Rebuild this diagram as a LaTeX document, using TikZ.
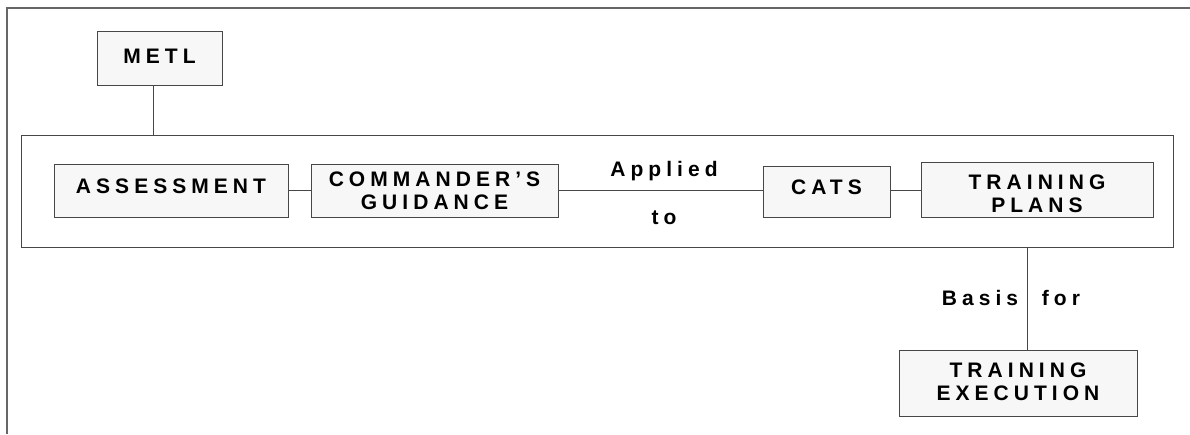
\documentclass[tikz,border=0pt]{standalone}
\usepackage{fontspec}
\setmainfont{Liberation Sans}[UprightFont=* Bold, BoldFont=* Bold, LetterSpace=24]
\newcommand{\mydepth}[1]{\rule[-#1]{0pt}{#1}}
\newcommand{\myheight}[1]{\rule{0pt}{#1}}
\begin{document}
\begin{tikzpicture}[x=1pt,y=-1pt,
  box/.style={draw=black!72, line width=1pt, fill=black!3, rectangle, inner sep=0pt,
     align=center, font=\fontsize{21}{23}\selectfont},
  lab/.style={inner sep=0pt, anchor=base, font=\fontsize{21}{23}\selectfont},
  conn/.style={draw=black!72, line width=1pt}]
\useasboundingbox (0,0) rectangle (1190,434);
\fill[white] (0,0) rectangle (1190,434);
\draw[black!60, line width=1.2pt] (7,434) -- (7,8) -- (1190,8);
\node[box, fill=white, minimum width=1152pt, minimum height=112pt] (outer) at (597,191) {};
\node[box, minimum width=125pt, minimum height=54pt] (metl) at (159.5,58) {METL\mydepth{4pt}};
\node[box, minimum width=234pt, minimum height=53pt] (assess) at (171,190.5) {ASSESSMENT\mydepth{9pt}};
\node[box, minimum width=247pt, minimum height=53pt] (cmd) at (434.5,190.5) {COMMANDER’S\\GUIDANCE};
\node[box, minimum width=127pt, minimum height=51pt] (cats) at (826.5,191.5) {CATS\mydepth{8pt}};
\node[box, minimum width=232pt, minimum height=55pt] (tp) at (1037,190) {\myheight{22pt}TRAINING\\PLANS};
\node[box, minimum width=238pt, minimum height=66pt] (te) at (1018,383) {TRAINING\\EXECUTION\mydepth{3pt}};
\node[lab] (applied) at (664,176.7) {Applied};
\node[lab] (to) at (664,224) {to};
\node[lab] (basis) at (980,305) {Basis};
\node[lab] (for) at (1061,305) {for};
\coordinate (mx) at (153,0);
\coordinate (bx) at (1027,0);
\draw[conn] (metl.south -| mx) -- (outer.north -| mx);
\draw[conn] (assess.east) -- (cmd.west);
\draw[conn] (cmd.east) -- (cats.west |- cmd.east);
\draw[conn] (cats.east |- tp.west) -- (tp.west);
\draw[conn] (outer.south -| bx) -- (te.north -| bx);
\end{tikzpicture}
\end{document}
